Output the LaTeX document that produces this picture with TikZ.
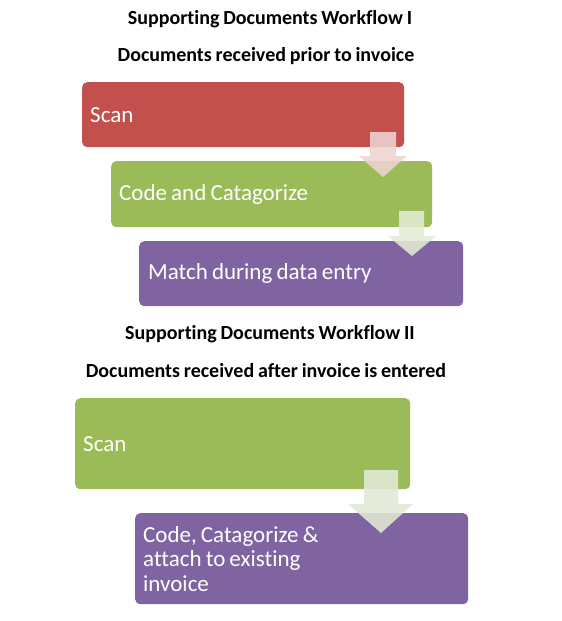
\documentclass[tikz,border=0pt]{standalone}
\usepackage{fontspec}
\setmainfont{Carlito}[Ligatures=NoCommon]
\definecolor{cred}{HTML}{C4504E}
\definecolor{cgreen}{HTML}{9BBB59}
\definecolor{cpurple}{HTML}{8064A2}
\definecolor{apink}{HTML}{EFD3D2}
\definecolor{agreen}{HTML}{E3EBD3}
\definecolor{agreen2}{HTML}{E2E9D5}
\newcommand\myboxfont{\fontsize{23}{24.5}\selectfont}
\newcommand\bsp{\spaceskip=0.18em plus 0.05em\relax}
\newcommand\mytitlefont{\bfseries\fontsize{20}{22}\selectfont\spaceskip=0.19em\relax}
\begin{document}
\begin{tikzpicture}[x=1pt,y=-1pt,
  box/.style={rounded corners=5pt, draw=none, anchor=north west, inner xsep=8pt, inner ysep=0pt,
    text=white, font=\myboxfont, align=left},
  title/.style={font=\mytitlefont, text=black, inner sep=0pt},
  blockarrow/.style={draw=none, fill opacity=0.88}]
\useasboundingbox[fill=white] (0,0) rectangle (562,621);

\node[title] (t1) at (270,19) {Supporting Documents Workflow I};
\node[title] (t2) at (266,56) {Documents received prior to invoice};
\node[title] (t3) at (270,334) {Supporting Documents Workflow II};
\node[title] (t4) at (266,371) {Documents received after invoice is entered};

\node[box, fill=cred, minimum width=322pt, minimum height=65pt, text width=306pt] (b1) at (82,82) {\bsp Scan};
\node[box, fill=cgreen, minimum width=321pt, minimum height=66pt, text width=305pt] (b2) at (111,161) {\bsp Code and Catagorize};
\node[box, fill=cpurple, minimum width=323pt, minimum height=65pt, text width=306pt, inner xsep=9pt] (b3) at (139,241) {\bsp Match during data entry};

\fill[apink, blockarrow] (370,132) -- (396,132) -- (396,156) -- (407,156) -- (383,177) -- (359,156) -- (370,156) -- cycle;
\fill[agreen, blockarrow] (399,211) -- (424,211) -- (424,236) -- (436,236) -- (412,256) -- (388,236) -- (399,236) -- cycle;

\node[box, fill=cgreen, minimum width=335pt, minimum height=91pt, text width=319pt] (b4) at (75,398) {\bsp Scan};
\node[box, fill=cpurple, minimum width=333pt, minimum height=91pt, text width=317pt] (b5) at (135,513) {\bsp Code, Catagorize \&\\attach to existing\\invoice};

\fill[agreen2, blockarrow] (364,470) -- (398,470) -- (398,504) -- (413,504) -- (381,533) -- (348,504) -- (364,504) -- cycle;
\end{tikzpicture}
\end{document}
